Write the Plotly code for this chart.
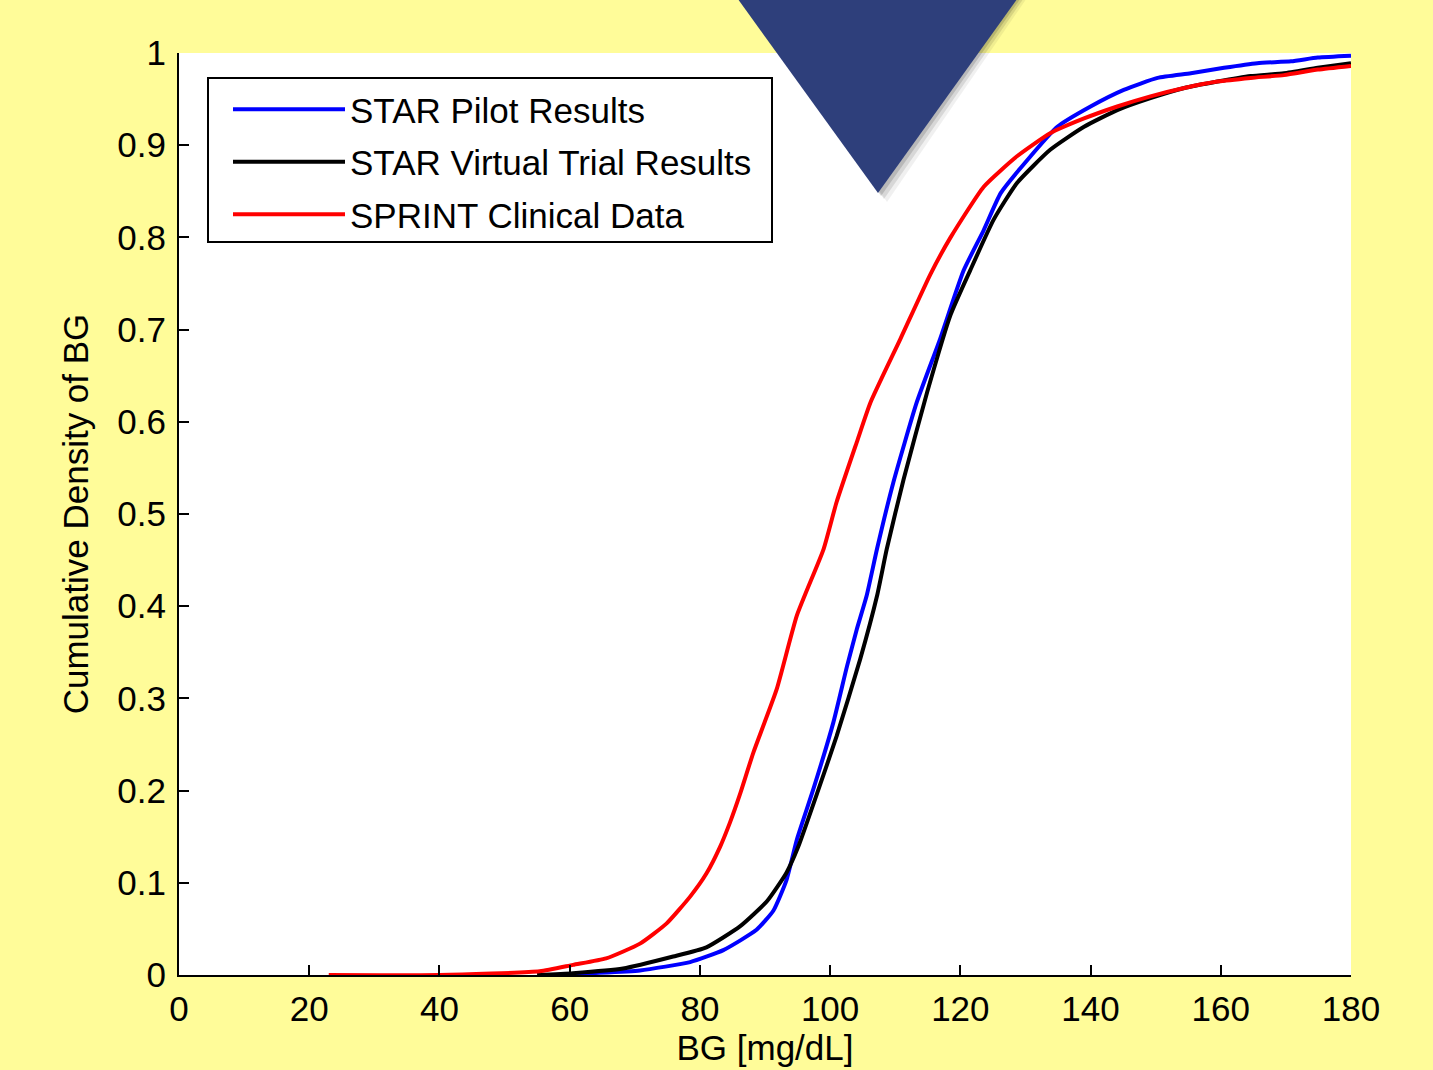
import plotly.graph_objects as go

# STAR Pilot Results (blue)
pilot_bg = [58, 63.1, 70.8, 78.5, 83.6, 88.7, 91.3, 93.3, 94.9, 97.4, 100.5, 102.6, 104.1, 105.6, 107.2,
            109.7, 113.3, 116.9, 120.5, 123.6, 126.2, 130.3, 134.9, 140, 145.1, 150.3, 155.4, 160.5,
            165.6, 170.8, 174.9, 180]
pilot_cd = [0.0, 0.002, 0.005, 0.014, 0.027, 0.049, 0.070, 0.103, 0.147, 0.201, 0.274, 0.335, 0.375, 0.411,
            0.462, 0.534, 0.621, 0.690, 0.764, 0.808, 0.848, 0.884, 0.920, 0.942, 0.960, 0.973, 0.978,
            0.984, 0.989, 0.991, 0.995, 0.997]

# STAR Virtual Trial Results (black)
virtual_bg = [55, 60.5, 68.2, 75.9, 81.0, 86.2, 90.3, 93.3, 95.1, 98.0, 101.0, 104.6, 107.2, 108.7,
              111.3, 114.9, 118.5, 121.5, 125.1, 128.7, 133.8, 139, 144.1, 149.2, 154.4, 159.5, 164.6,
              169.7, 174.9, 180]
virtual_cd = [0.0, 0.002, 0.007, 0.020, 0.030, 0.053, 0.080, 0.111, 0.139, 0.197, 0.259, 0.342, 0.411, 0.462,
              0.538, 0.632, 0.716, 0.764, 0.819, 0.859, 0.895, 0.920, 0.938, 0.951, 0.962, 0.969, 0.975,
              0.978, 0.984, 0.989]

# SPRINT Clinical Data (red)
sprint_bg = [23, 40, 55.4, 60.5, 65.6, 70.8, 74.9, 78.5, 81.0, 83.1, 84.6, 86.2, 88.2, 91.8, 94.9, 99.0,
             101.0, 104.1, 106.2, 110.8, 115.4, 118.5, 123.6, 128.7, 133.8, 139, 144.1, 149.2, 154.4,
             159.5, 164.6, 169.7, 174.9, 180]
sprint_cd = [0.0, 0.0, 0.004, 0.011, 0.018, 0.034, 0.056, 0.085, 0.110, 0.139, 0.165, 0.197, 0.241, 0.31,
             0.39, 0.462, 0.513, 0.578, 0.621, 0.690, 0.760, 0.800, 0.855, 0.888, 0.913, 0.929, 0.942,
             0.953, 0.962, 0.969, 0.973, 0.976, 0.982, 0.986]

x_ticks = [0, 20, 40, 60, 80, 100, 120, 140, 160, 180]
y_ticks = [0, 0.1, 0.2, 0.3, 0.4, 0.5, 0.6, 0.7, 0.8, 0.9, 1]
y_labels = ["0", "0.1", "0.2", "0.3", "0.4", "0.5", "0.6", "0.7", "0.8", "0.9", "1"]

FONT = "Liberation Sans, Arial, sans-serif"
FS = 35
W, H = 1433, 1070
L, R, T, B = 179, 82, 53, 95

fig = go.Figure()
for name, xs, ys, col in [
    ("STAR Pilot Results", pilot_bg, pilot_cd, "#0000FF"),
    ("STAR Virtual Trial Results", virtual_bg, virtual_cd, "#000000"),
    ("SPRINT Clinical Data", sprint_bg, sprint_cd, "#FF0000"),
]:
    fig.add_trace(go.Scatter(x=xs, y=ys, mode="lines", name=name, legendgroup=name,
                             line=dict(color=col, width=4, shape="spline", smoothing=0.5)))

pw = W - L - R
ph = H - T - B
def px(x):
    return (x - L) / pw
def py(y):
    return (H - B - y) / ph

# legend frame
fig.add_shape(type="rect", xref="paper", yref="paper", layer="below",
              x0=px(208), x1=px(772), y0=py(242), y1=py(78),
              fillcolor="#FFFFFF", line=dict(color="#000000", width=2))

# decorative triangle with soft shadow
for off, alpha in [(9, 0.06), (6, 0.10), (3, 0.14)]:
    fig.add_shape(type="path", xref="paper", yref="paper", layer="above",
                  path=f"M{px(735+off)},{py(-5)} L{px(1020+off)},{py(-5)} L{px(878+off)},{py(193+off)} Z",
                  fillcolor=f"rgba(0,0,0,{alpha})", line=dict(width=0))
fig.add_shape(type="path", xref="paper", yref="paper", layer="above",
              path=f"M{px(735)},{py(-5)} L{px(1020)},{py(-5)} L{px(878)},{py(193)} Z",
              fillcolor="#2E3F7B", line=dict(width=0))

fig.update_layout(
    width=W, height=H,
    margin=dict(l=L, r=R, t=T, b=B),
    paper_bgcolor="#FFFC99", plot_bgcolor="#FFFFFF",
    font=dict(family=FONT, size=FS, color="#000000"),
    showlegend=True,
    legend=dict(x=px(228), y=py(80), xanchor="left", yanchor="top",
                bgcolor="rgba(0,0,0,0)", borderwidth=0,
                font=dict(family=FONT, size=FS), itemwidth=112,
                traceorder="grouped", tracegroupgap=4),
    xaxis=dict(range=[0, 180], tickvals=x_ticks, ticks="inside", ticklen=10, tickwidth=2,
               tickcolor="#000", showline=True, linecolor="#000", linewidth=2,
               showgrid=False, zeroline=False, ticklabelstandoff=2,
               title=dict(text="BG [mg/dL]", font=dict(size=FS), standoff=4)),
    yaxis=dict(range=[0, 1], tickvals=y_ticks, ticktext=y_labels, ticks="inside", ticklen=10,
               tickwidth=2, tickcolor="#000", showline=True, linecolor="#000", linewidth=2,
               showgrid=False, zeroline=False, ticklabelstandoff=4,
               title=dict(text="Cumulative Density of BG", font=dict(size=FS), standoff=18)),
)

fig.write_html("out.html")
